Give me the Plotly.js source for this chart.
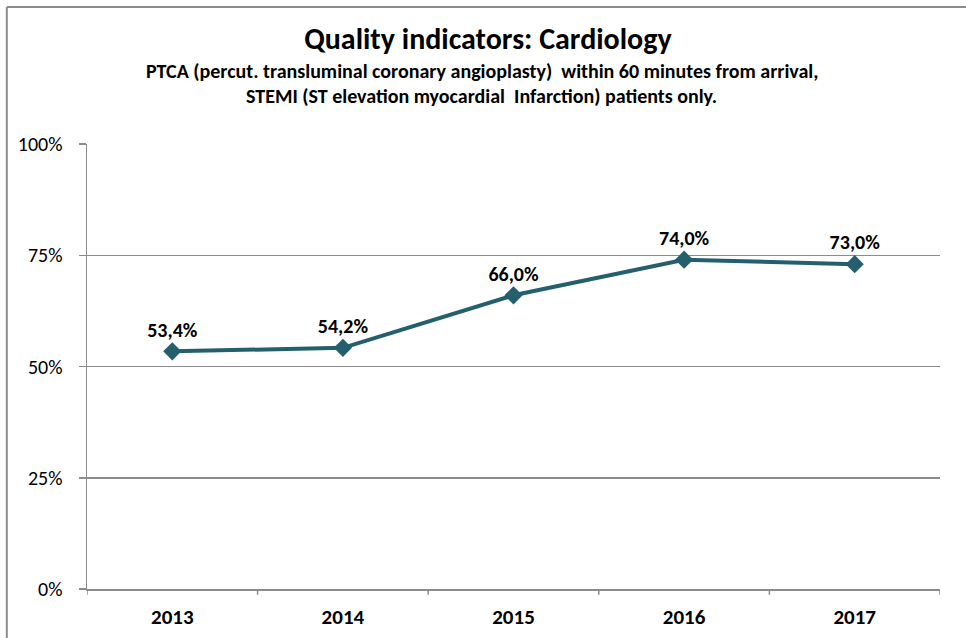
<!DOCTYPE html>
<html>
<head>
<meta charset="utf-8">
<script src="https://cdn.plot.ly/plotly-3.0.1.min.js"></script>
<style>
  html, body { margin: 0; padding: 0; background: #fff; }
  #chart { width: 966px; height: 638px; }
</style>
</head>
<body>
<div id="chart"></div>
<script>
const years = ['2013', '2014', '2015', '2016', '2017'];
const ptcaShare = [0.534, 0.542, 0.66, 0.74, 0.73];
const yTicks = [0, 0.25, 0.5, 0.75, 1];
const yTickLabels = ['0%', '25%', '50%', '75%', '100%'];

const font = 'Carlito, Calibri, Lato, sans-serif';
const teal = '#235f6d';

const trace = {
  x: years,
  y: ptcaShare,
  type: 'scatter',
  mode: 'lines+markers+text',
  line: { color: teal, width: 4 },
  marker: { symbol: 'diamond', size: 14, color: teal },
  texttemplate: '%{y:.1%}',
  textposition: 'top center',
  textfont: { family: font, size: 20, color: '#000', weight: 'bold' },
  cliponaxis: false,
  hoverinfo: 'skip',
};

const layout = {
  width: 966,
  height: 638,
  separators: ',.',
  paper_bgcolor: '#fff',
  plot_bgcolor: '#fff',
  showlegend: false,
  margin: { l: 87, r: 26, t: 144, b: 49 },
  font: { family: font, color: '#000' },
  title: {
    text: '<b>Quality indicators: Cardiology</b>',
    font: { family: font, size: 30, color: '#000' },
    x: 0.47,
    xref: 'paper',
    y: 0.94,
    yref: 'container',
    xanchor: 'center',
    yanchor: 'middle',
  },
  xaxis: {
    type: 'category',
    range: [-0.5, 4.5],
    showgrid: false,
    showline: true,
    linecolor: '#8c8c8c',
    linewidth: 1.5,
    ticks: '',
    tickfont: { family: font, size: 21, color: '#000', weight: 'bold' },
    ticklabelstandoff: 8,
    zeroline: false,
    fixedrange: true,
  },
  yaxis: {
    range: [0, 1],
    tickvals: yTicks,
    ticktext: yTickLabels,
    showgrid: true,
    gridcolor: '#8c8c8c',
    gridwidth: 1.5,
    showline: true,
    linecolor: '#8c8c8c',
    linewidth: 1.5,
    ticks: 'outside',
    ticklen: 7,
    tickcolor: '#8c8c8c',
    tickwidth: 1.5,
    tickfont: { family: font, size: 20, color: '#000' },
    ticklabelstandoff: 12,
    zeroline: false,
    fixedrange: true,
  },
  annotations: [
    {
      text: '<b>PTCA (percut. transluminal coronary angioplasty)  within 60 minutes from arrival,</b>',
      xref: 'paper', yref: 'paper', x: 0.463, y: 1.165,
      showarrow: false, xanchor: 'center', yanchor: 'middle',
      font: { family: font, size: 20, color: '#000' },
    },
    {
      text: '<b>STEMI (ST elevation myocardial  Infarction) patients only.</b>',
      xref: 'paper', yref: 'paper', x: 0.463, y: 1.108,
      showarrow: false, xanchor: 'center', yanchor: 'middle',
      font: { family: font, size: 20, color: '#000' },
    },
  ],
  shapes: [],
};

// category boundary ticks under the x axis
for (let i = 0; i <= years.length; i++) {
  layout.shapes.push({
    type: 'line', xref: 'x', yref: 'paper',
    x0: i - 0.5, x1: i - 0.5, y0: 0, y1: -0.013,
    line: { color: '#8c8c8c', width: 1.5 },
  });
}
// outer chart border (left and top edges visible)
layout.shapes.push({
  type: 'line', xref: 'paper', yref: 'paper',
  x0: -0.094, x1: -0.094, y0: 1.308, y1: -0.2,
  line: { color: '#8c8c8c', width: 2 },
});
layout.shapes.push({
  type: 'line', xref: 'paper', yref: 'paper',
  x0: -0.094, x1: 1.1, y0: 1.308, y1: 1.308,
  line: { color: '#8c8c8c', width: 2 },
});

Plotly.newPlot('chart', [trace], layout, { displayModeBar: false, staticPlot: true });
</script>
</body>
</html>
